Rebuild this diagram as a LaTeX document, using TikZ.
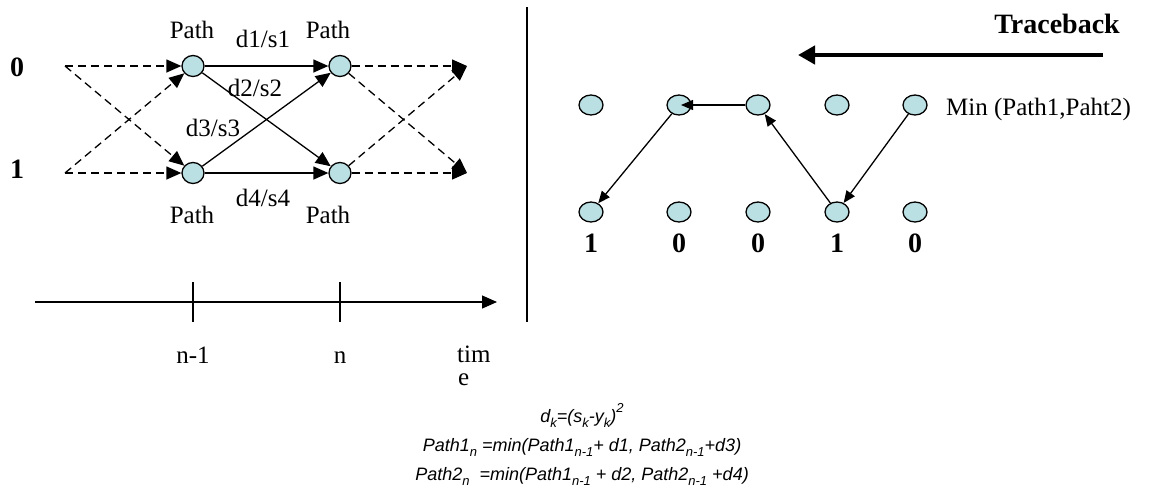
\documentclass[tikz,border=0pt]{standalone}
\usepackage{fontspec}
\setmainfont{Liberation Serif}
\newfontfamily\arialfont{Liberation Sans}
\usetikzlibrary{arrows.meta,shapes.geometric}
\definecolor{nodefill}{RGB}{187,224,227}
\newcommand{\mysub}[1]{\raisebox{-0.28em}{\fontsize{13}{15}\selectfont #1}}
\newcommand{\mysup}[1]{\raisebox{0.55em}{\fontsize{13}{15}\selectfont #1}}
\tikzset{
  lc/.style={ellipse,draw,fill=nodefill,line width=1.3pt,minimum width=22pt,minimum height=21pt,inner sep=0pt},
  rc/.style={ellipse,draw,fill=nodefill,line width=1.3pt,minimum width=24pt,minimum height=20pt,inner sep=0pt},
  txt/.style={font=\fontsize{25}{30}\selectfont,inner sep=0pt,anchor=base},
  btxt/.style={font=\fontsize{28}{32}\selectfont\bfseries,inner sep=0pt,anchor=base},
  eq/.style={font=\arialfont\itshape\fontsize{18}{22}\selectfont,inner sep=0pt,anchor=base},
  bigarr/.style={line width=1.3pt,-{Triangle[length=15pt,width=13pt]}},
  dasharr/.style={bigarr,dash pattern=on 8pt off 5pt},
  tbarr/.style={line width=1.3pt,-{Triangle[length=12pt,width=10pt]}},
  thin/.style={line width=1.3pt}
}
\begin{document}
\begin{tikzpicture}[x=1pt,y=-1pt]
\useasboundingbox (0,0) rectangle (1164,499);
% left trellis
\node[btxt] (l0) at (17,76) {0};
\node[btxt] (l1) at (17,178) {1};
\coordinate (s0) at (65,66);
\coordinate (s1) at (65,173);
\coordinate (e0) at (467,66);
\coordinate (e1) at (467,173);
\node[lc] (A0) at (193,66) {};
\node[lc] (A1) at (193,173) {};
\node[lc] (B0) at (340,66) {};
\node[lc] (B1) at (340,173) {};
\draw[dasharr] (s0) -- (A0);
\draw[dasharr] (s0) -- (A1);
\draw[dasharr] (s1) -- (A0);
\draw[dasharr] (s1) -- (A1);
\draw[dasharr] (B0) -- (e0);
\draw[dasharr] (B0) -- (e1);
\draw[dasharr] (B1) -- (e0);
\draw[dasharr] (B1) -- (e1);
\draw[bigarr] (A0) -- (B0);
\draw[bigarr] (A0) -- (B1);
\draw[bigarr] (A1) -- (B0);
\draw[bigarr] (A1) -- (B1);
\node[txt] (p1) at (192,38) {Path};
\node[txt] (p2) at (328,38) {Path};
\node[txt] (p3) at (192,223) {Path};
\node[txt] (p4) at (328,223) {Path};
\node[txt] (ds1) at (263,47) {d1/s1};
\node[txt] (ds2) at (255,96) {d2/s2};
\node[txt] (ds3) at (213,136) {d3/s3};
\node[txt] (ds4) at (263,206) {d4/s4};
% time axis
\coordinate (t0) at (35,302);
\coordinate (t1) at (497,302);
\draw[thin,-{Triangle[length=15pt,width=13pt]}] (t0) -- (t1);
\coordinate (k1a) at (193,282);
\coordinate (k1b) at (193,322);
\coordinate (k2a) at (340,282);
\coordinate (k2b) at (340,322);
\draw[thin] (k1a) -- (k1b);
\draw[thin] (k2a) -- (k2b);
\node[txt] (n1) at (193,363) {n-1};
\node[txt] (n2) at (340,363) {n};
\node[txt,anchor=base west] (tm1) at (457,362) {tim};
\node[txt,anchor=base west] (tm2) at (458,385) {e};
% divider
\coordinate (d0) at (527,7);
\coordinate (d1) at (527,322);
\draw[thin] (d0) -- (d1);
% traceback
\node[btxt] (tb) at (1057,33) {Traceback};
\coordinate (tba) at (1103,55);
\coordinate (tbb) at (798,55);
\draw[line width=4.5pt,-{Triangle[length=17pt,width=18pt]}] (tba) -- (tbb);
\foreach \i/\x in {1/591,2/679,3/758,4/837,5/915}{
  \node[rc] (T\i) at (\x,105) {};
  \node[rc] (U\i) at (\x,212) {};
}
\node[btxt] (b1) at (591,252) {1};
\node[btxt] (b2) at (679,252) {0};
\node[btxt] (b3) at (758,252) {0};
\node[btxt] (b4) at (837,252) {1};
\node[btxt] (b5) at (915,252) {0};
\node[txt,anchor=base west] (mn) at (946,115) {Min (Path1,Paht2)};
\draw[tbarr] (T5) -- (U4);
\draw[tbarr] (U4) -- (T3);
\draw[tbarr,shorten >=2pt] (T3) -- (T2.center);
\draw[tbarr] (T2) -- (U1);
% equations
\node[eq] (q1) at (582,422) {d\mysub{k}=(s\mysub{k}-y\mysub{k})\mysup{2}};
\node[eq] (q2) at (582,451) {Path1\mysub{n} =min(Path1\mysub{n-1}+ d1, Path2\mysub{n-1}+d3)};
\node[eq] (q3) at (582,480) {Path2\mysub{n}\ \ =min(Path1\mysub{n-1} + d2, Path2\mysub{n-1} +d4)};
\end{tikzpicture}
\end{document}
